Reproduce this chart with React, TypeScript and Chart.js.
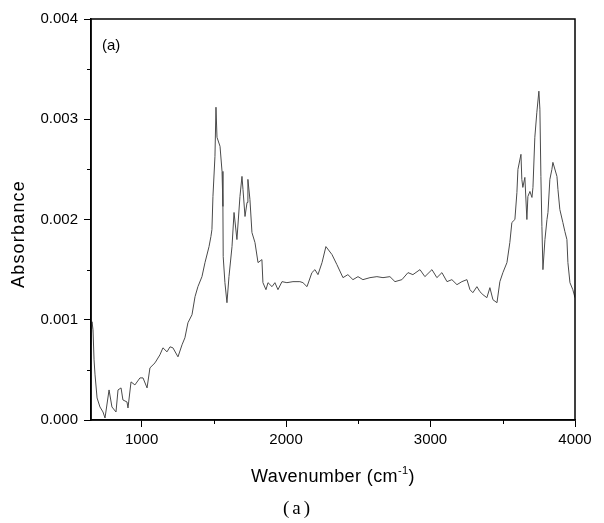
import React, { useEffect, useRef } from "react";
import { Chart, registerables } from "chart.js";

Chart.register(...registerables);

const wavenumbers = [
  650, 657, 664, 671, 678, 692, 712, 733, 747, 775,
  795, 823, 837, 858, 871, 899, 906, 927, 954, 989,
  1010, 1038, 1058, 1093, 1127, 1148, 1176, 1197, 1217, 1252,
  1280, 1300, 1321, 1349, 1370, 1390, 1418, 1439, 1467, 1480,
  1487, 1494, 1508, 1515, 1522, 1543, 1557, 1563, 1565, 1577,
  1591, 1605, 1626, 1640, 1660, 1681, 1695, 1702, 1716, 1730,
  1736, 1750, 1764, 1785, 1806, 1833, 1840, 1861, 1875, 1903,
  1923, 1944, 1972, 2006, 2048, 2096, 2117, 2145, 2179, 2200,
  2221, 2249, 2276, 2318, 2352, 2394, 2428, 2463, 2498, 2532,
  2581, 2629, 2671, 2719, 2754, 2802, 2844, 2878, 2927, 2961,
  3010, 3044, 3079, 3114, 3148, 3183, 3217, 3252, 3273, 3293,
  3321, 3342, 3363, 3390, 3411, 3432, 3460, 3480, 3501, 3529,
  3549, 3563, 3584, 3598, 3605, 3626, 3632, 3639, 3653, 3667,
  3674, 3688, 3702, 3709, 3722, 3736, 3750, 3757, 3764, 3771,
  3778, 3792, 3806, 3813, 3826, 3840, 3847, 3875, 3882, 3895,
  3916, 3930, 3944, 3951, 3965, 3985, 4000,
];

const absorbance = [
  0.00075, 0.00098, 0.0009, 0.0006, 0.00045, 0.00022, 0.00013, 0.00008, 0.00002, 0.0003,
  0.00013, 0.00008, 0.0003, 0.00032, 0.0002, 0.00018, 0.00012, 0.00038, 0.00035, 0.00042,
  0.00042, 0.00032, 0.00052, 0.00057, 0.00065, 0.00072, 0.00068, 0.00073, 0.00072, 0.00063,
  0.00075, 0.00082, 0.00097, 0.00105, 0.00123, 0.00133, 0.00143, 0.00157, 0.00173, 0.00183,
  0.0019, 0.00223, 0.00263, 0.00312, 0.00282, 0.00273, 0.00248, 0.00213, 0.00163, 0.00137,
  0.00117, 0.00143, 0.00173, 0.00207, 0.0018, 0.00223, 0.00243, 0.0023, 0.00203, 0.00217,
  0.0024, 0.0022, 0.00187, 0.00177, 0.00157, 0.0016, 0.00137, 0.0013, 0.00137, 0.00133,
  0.00137, 0.0013, 0.00138, 0.00137, 0.00138, 0.00138, 0.00137, 0.00133, 0.00147, 0.0015,
  0.00145, 0.00157, 0.00173, 0.00165, 0.00155, 0.00142, 0.00145, 0.0014, 0.00143, 0.0014,
  0.00142, 0.00143, 0.00142, 0.00143, 0.00138, 0.0014, 0.00147, 0.00145, 0.0015, 0.00143,
  0.0015, 0.00142, 0.00147, 0.00138, 0.0014, 0.00135, 0.00138, 0.0014, 0.0013, 0.00127,
  0.00133, 0.00128, 0.00125, 0.00122, 0.00132, 0.0012, 0.00117, 0.00138, 0.00147, 0.00157,
  0.00177, 0.00197, 0.002, 0.00227, 0.0025, 0.00265, 0.0024, 0.00232, 0.00242, 0.002,
  0.00223, 0.00228, 0.00222, 0.00232, 0.00282, 0.00307, 0.00328, 0.0031, 0.00243, 0.00193,
  0.0015, 0.0018, 0.002, 0.00207, 0.0024, 0.0025, 0.00257, 0.00243, 0.0023, 0.0021,
  0.00197, 0.00188, 0.0018, 0.00157, 0.00137, 0.0013, 0.00122,
];

const xMajorTicks = [1000, 2000, 3000, 4000];
const yMajorTicks = [0, 0.001, 0.002, 0.003, 0.004];
const xMinorTicks = [1500, 2500, 3500];
const yMinorTicks = [0.0005, 0.0015, 0.0025, 0.0035];

const xTitleMain = "Wavenumber (cm";
const xTitleSup = "-1";
const xTitleEnd = ")";
const yTitle = "Absorbance";
const panelLabel = "(a)";
const caption = "(a)";

const SANS = '"Liberation Sans", Arial, Helvetica, sans-serif';
const SERIF = '"Liberation Serif", "Times New Roman", serif';

const decorPlugin = {
  id: "decor",
  afterDraw(chart: any) {
    const { ctx, chartArea, scales } = chart;
    const { left, right, top, bottom } = chartArea;
    const x = scales.x;
    const y = scales.y;
    ctx.save();
    ctx.strokeStyle = "#000";
    ctx.lineWidth = 1.5;
    ctx.strokeRect(left, top, right - left, bottom - top);

    ctx.lineWidth = 1;
    ctx.beginPath();
    for (const v of xMinorTicks) {
      const px = Math.round(x.getPixelForValue(v)) + 0.5;
      ctx.moveTo(px, bottom);
      ctx.lineTo(px, bottom + 4);
    }
    for (const v of yMinorTicks) {
      const py = Math.round(y.getPixelForValue(v)) + 0.5;
      ctx.moveTo(left - 4, py);
      ctx.lineTo(left, py);
    }
    ctx.stroke();

    ctx.fillStyle = "#000";
    ctx.font = `15px ${SANS}`;
    ctx.textAlign = "left";
    ctx.textBaseline = "alphabetic";
    ctx.fillText(panelLabel, left + 11, top + 31);

    (ctx as any).letterSpacing = "0.4px";
    ctx.font = `18px ${SANS}`;
    const w1 = ctx.measureText(xTitleMain).width;
    const w3 = ctx.measureText(xTitleEnd).width;
    ctx.font = `11px ${SANS}`;
    const w2 = ctx.measureText(xTitleSup).width;
    const total = w1 + w2 + w3;
    const cx = (left + right) / 2;
    let sx = cx - total / 2;
    const by = 482;
    ctx.font = `18px ${SANS}`;
    ctx.fillText(xTitleMain, sx, by);
    sx += w1;
    ctx.font = `11px ${SANS}`;
    ctx.fillText(xTitleSup, sx, by - 8);
    sx += w2;
    ctx.font = `18px ${SANS}`;
    ctx.fillText(xTitleEnd, sx, by);

    (ctx as any).letterSpacing = "1.2px";
    ctx.save();
    ctx.translate(24, 234);
    ctx.rotate(-Math.PI / 2);
    ctx.textAlign = "center";
    ctx.font = `18px ${SANS}`;
    ctx.fillText(yTitle, 0, 0);
    ctx.restore();

    (ctx as any).letterSpacing = "3px";
    ctx.font = `19px ${SERIF}`;
    ctx.textAlign = "center";
    ctx.fillText(caption, 298, 514);
    (ctx as any).letterSpacing = "0px";
    ctx.restore();
  },
};

export default function App() {
  const canvasRef = useRef<HTMLCanvasElement | null>(null);

  useEffect(() => {
    document.body.style.margin = "0";
    const canvas = canvasRef.current;
    if (!canvas) return;
    const points = wavenumbers.map((w, i) => ({ x: w, y: absorbance[i] }));
    const chart = new Chart(canvas, {
      type: "line",
      data: {
        datasets: [
          {
            data: points,
            borderColor: "#4a4a4a",
            borderWidth: 1,
            pointRadius: 0,
            tension: 0,
            fill: false,
          },
        ],
      },
      options: {
        animation: false,
        responsive: false,
        maintainAspectRatio: false,
        layout: { padding: { left: 0, right: 29, top: 19, bottom: 0 } },
        plugins: {
          legend: { display: false },
          tooltip: { enabled: false },
          title: { display: false },
        },
        scales: {
          x: {
            type: "linear",
            min: 650,
            max: 4000,
            afterBuildTicks: (scale: any) => {
              scale.ticks = xMajorTicks.map((v) => ({ value: v }));
            },
            afterFit: (scale: any) => {
              scale.height = 103;
            },
            border: { display: true, color: "#000", width: 1.5 },
            grid: {
              drawOnChartArea: false,
              drawTicks: true,
              tickLength: 7,
              color: "#000",
              lineWidth: 1,
            },
            ticks: {
              autoSkip: false,
              maxRotation: 0,
              padding: 4,
              color: "#000",
              font: { family: SANS, size: 15 },
              callback: (v: any) => String(v),
            },
          },
          y: {
            type: "linear",
            min: 0,
            max: 0.004,
            afterBuildTicks: (scale: any) => {
              scale.ticks = yMajorTicks.map((v) => ({ value: v }));
            },
            afterFit: (scale: any) => {
              scale.width = 91;
            },
            border: { display: true, color: "#000", width: 1.5 },
            grid: {
              drawOnChartArea: false,
              drawTicks: true,
              tickLength: 7,
              color: "#000",
              lineWidth: 1,
            },
            ticks: {
              autoSkip: false,
              padding: 6,
              color: "#000",
              font: { family: SANS, size: 15 },
              callback: (v: any) => Number(v).toFixed(3),
            },
          },
        },
      },
      plugins: [decorPlugin],
    });
    return () => chart.destroy();
  }, []);

  return (
    <div style={{ position: "absolute", left: 0, top: 0, width: 604, height: 523, background: "#fff" }}>
      <canvas ref={canvasRef} width={604} height={523} style={{ display: "block" }} />
    </div>
  );
}
